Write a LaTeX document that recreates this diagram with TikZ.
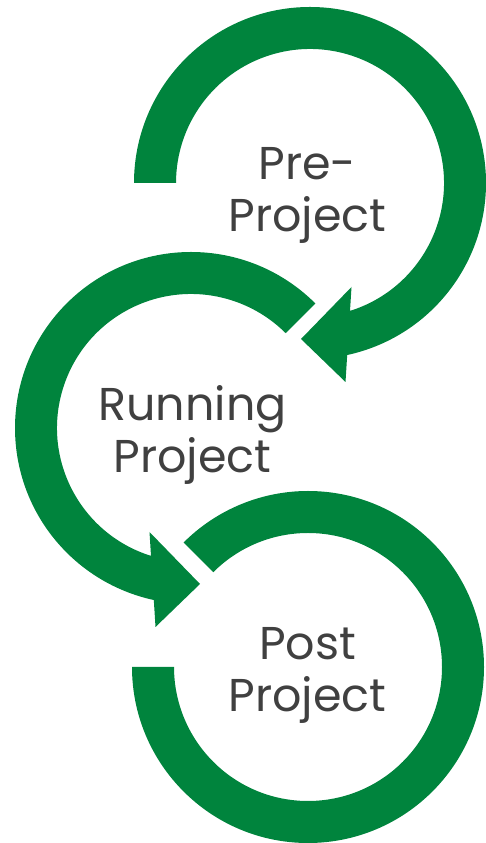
\documentclass[tikz,border=0pt]{standalone}
\usepackage{fontspec}
\setmainfont{Poppins}
\definecolor{ringgreen}{HTML}{00843D}
\definecolor{labelgray}{HTML}{404040}
\begin{document}
\begin{tikzpicture}[x=1pt,y=1pt,
  ring/.style={fill=ringgreen},
  ringtext/.style={text=labelgray,font=\fontsize{46}{52.5}\selectfont,align=center,anchor=base,inner sep=0pt}]
\useasboundingbox (0,0) rectangle (486,843);
\coordinate (C1) at (310,660);
\coordinate (C2) at (191,415);
\coordinate (C3) at (308,176);
% Pre-Project ring with arrowhead
\begin{scope}[shift={(C1)}]
\fill[ring] (180:176) arc[start angle=180,end angle=-77.8,radius=176]
  -- (35.5,-199) -- (-9,-156) -- (41.5,-104)
  -- (-72.63:134) arc[start angle=-72.63,end angle=180,radius=134] -- cycle;
\end{scope}
% Running Project ring (mirrored arrowhead)
\begin{scope}[shift={(C2)},xscale=-1]
\fill[ring] (135:176) arc[start angle=135,end angle=-77.8,radius=176]
  -- (35.5,-199) -- (-9,-156) -- (41.5,-104)
  -- (-72.63:134) arc[start angle=-72.63,end angle=135,radius=134] -- cycle;
\end{scope}
% Post Project ring
\begin{scope}[shift={(C3)}]
\fill[ring] (180:176) arc[start angle=180,end angle=495,radius=176]
  -- (495:134) arc[start angle=495,end angle=180,radius=134] -- cycle;
\end{scope}
\node[ringtext] (pre) at (307.5,611) {Pre-\\Project};
\node[ringtext] (running) at (192.5,370) {Running\\Project};
\node[ringtext] (post) at (307.5,131) {Post\\Project};
\end{tikzpicture}
\end{document}
